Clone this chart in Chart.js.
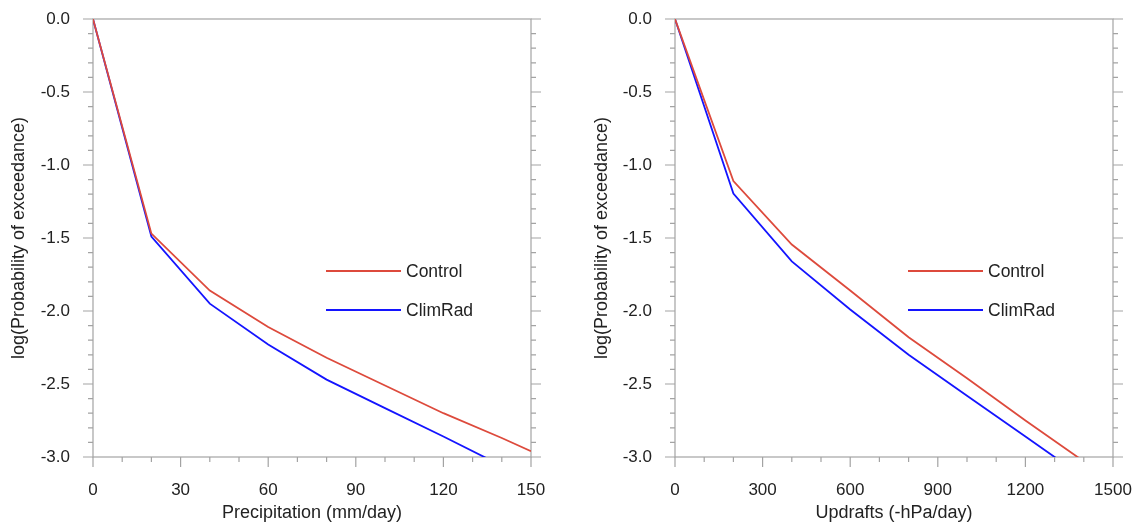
<!DOCTYPE html>
<html>
<head>
<meta charset="utf-8">
<script src="https://cdn.jsdelivr.net/npm/chart.js@4.4.1/dist/chart.umd.min.js"></script>
<style>
    html, body { margin: 0; padding: 0; background: #fff; }
    .panel { position: absolute; top: 0; width: 568px; height: 524px; }
    #left { left: 0; }
    #right { left: 568px; }
</style>
</head>
<body>
<div class="panel" id="left"><canvas id="precipChart" width="568" height="524"></canvas></div>
<div class="panel" id="right"><canvas id="updraftChart" width="568" height="524"></canvas></div>
<script>
/* ===== DATA ===== */
const seriesNames = ['Control', 'ClimRad'];

const precipX = [0, 20, 40, 60, 80, 100, 120, 140, 150];
const precipControl = [0, -1.47, -1.86, -2.11, -2.32, -2.51, -2.70, -2.87, -2.96];
const precipClimRad = [0, -1.49, -1.95, -2.23, -2.47, -2.665, -2.86, -3.06, null];

const updraftX = [0, 200, 400, 600, 800, 1000, 1200, 1400];
const updraftControl = [0, -1.11, -1.545, -1.86, -2.18, -2.46, -2.75, -3.03];
const updraftClimRad = [0, -1.195, -1.66, -1.99, -2.30, -2.58, -2.86, -3.14];

const precipTicks = [0, 30, 60, 90, 120, 150];
const updraftTicks = [0, 300, 600, 900, 1200, 1500];
const probTicks = [-3.0, -2.5, -2.0, -1.5, -1.0, -0.5, 0.0];

/* ===== PLUGINS ===== */
const FONT = '"Liberation Sans", Arial, Helvetica, sans-serif';

// frame + major/minor tick marks (left, bottom, right)
const framePlugin = {
    id: 'frame',
    beforeDatasetsDraw(chart, args, opts) {
        const ctx = chart.ctx;
        const a = chart.chartArea;
        const xs = chart.scales.x;
        const ys = chart.scales.y;
        const xMajor = xs.ticks.map(t => t.value);
        const yMajor = ys.ticks.map(t => t.value);
        const isMajor = (v, list) => list.some(m => Math.abs(m - v) < 1e-6);

        ctx.save();
        ctx.strokeStyle = '#a3a3a3';
        ctx.lineWidth = 1.2;
        ctx.strokeRect(a.left, a.top, a.right - a.left, a.bottom - a.top);

        ctx.beginPath();
        const nx = Math.round((xs.max - xs.min) / opts.xMinor);
        for (let i = 0; i <= nx; i++) {
            const v = xs.min + i * opts.xMinor;
            const px = xs.getPixelForValue(v);
            const len = isMajor(v, xMajor) ? 10 : 5;
            ctx.moveTo(px, a.bottom);
            ctx.lineTo(px, a.bottom + len);
        }
        const ny = Math.round((ys.max - ys.min) / opts.yMinor);
        for (let i = 0; i <= ny; i++) {
            const v = ys.min + i * opts.yMinor;
            const py = ys.getPixelForValue(v);
            const len = isMajor(v, yMajor) ? 10 : 5;
            ctx.moveTo(a.left, py);
            ctx.lineTo(a.left - len, py);
            ctx.moveTo(a.right, py);
            ctx.lineTo(a.right + len, py);
        }
        ctx.stroke();
        ctx.restore();
    }
};

// legend drawn inside the plot
const lineLegend = {
    id: 'lineLegend',
    afterDatasetsDraw(chart, args, opts) {
        const ctx = chart.ctx;
        ctx.save();
        ctx.font = '17.5px ' + FONT;
        ctx.textBaseline = 'middle';
        chart.data.datasets.forEach((ds, i) => {
            const y = opts.y + i * opts.gap;
            ctx.strokeStyle = ds.borderColor;
            ctx.lineWidth = ds.borderWidth;
            ctx.beginPath();
            ctx.moveTo(opts.x, y);
            ctx.lineTo(opts.x + 75, y);
            ctx.stroke();
            ctx.fillStyle = '#222';
            ctx.fillText(ds.label, opts.x + 80, y + 1);
        });
        ctx.restore();
    }
};

/* ===== CHARTS ===== */
function points(xs, ys) {
    return xs.map((x, i) => ({ x: x, y: ys[i] }));
}

function makeChart(id, opt) {
    return new Chart(document.getElementById(id).getContext('2d'), {
        type: 'line',
        data: {
            datasets: [{
                label: seriesNames[0],
                data: points(opt.x, opt.control),
                borderColor: '#dd4a3c',
                borderWidth: 1.8,
                pointRadius: 0,
                clip: 0,
            }, {
                label: seriesNames[1],
                data: points(opt.x, opt.climRad),
                borderColor: '#1414ff',
                borderWidth: 1.8,
                pointRadius: 0,
                clip: 0,
            }],
        },
        options: {
            responsive: false,
            animation: false,
            layout: { padding: { left: 0, right: opt.padRight, top: 19, bottom: 0 } },
            scales: {
                x: {
                    type: 'linear',
                    min: opt.xTicks[0],
                    max: opt.xTicks[opt.xTicks.length - 1],
                    afterBuildTicks: s => { s.ticks = opt.xTicks.map(v => ({ value: v })); },
                    afterFit: s => { s.height = 67; },
                    // ticks themselves are drawn by the frame plugin; tickLength only offsets labels
                    grid: { display: false, drawTicks: true, tickLength: 23 },
                    border: { display: false },
                    ticks: {
                        autoSkip: false, maxRotation: 0, padding: 0,
                        color: '#222', font: { family: FONT, size: 17 },
                        callback: v => String(v),
                    },
                    title: {
                        display: true, text: opt.xTitle, color: '#222',
                        font: { family: FONT, size: 18 }, padding: { top: 0, bottom: 0 },
                    },
                },
                y: {
                    type: 'linear',
                    min: -3,
                    max: 0,
                    afterBuildTicks: s => { s.ticks = probTicks.map(v => ({ value: v })); },
                    afterFit: s => { s.width = opt.yWidth; },
                    grid: { display: false, drawTicks: true, tickLength: 23 },
                    border: { display: false },
                    ticks: {
                        autoSkip: false, padding: 0,
                        color: '#222', font: { family: FONT, size: 17 },
                        callback: v => Number(v).toFixed(1),
                    },
                    title: {
                        display: true, text: 'log(Probability of exceedance)', color: '#222',
                        font: { family: FONT, size: 18 }, padding: { top: opt.yTitlePad, bottom: 0 },
                    },
                },
            },
            plugins: {
                legend: { display: false },
                tooltip: { enabled: false },
                frame: { xMinor: opt.xMinor, yMinor: 0.1 },
                lineLegend: { x: opt.legendX, y: 271, gap: 39 },
            },
        },
        plugins: [framePlugin, lineLegend],
    });
}

var precipChart = makeChart('precipChart', {
    x: precipX, control: precipControl, climRad: precipClimRad,
    xTicks: precipTicks, xMinor: 10, xTitle: 'Precipitation (mm/day)',
    padRight: 37, yWidth: 93, yTitlePad: 8, legendX: 326,
});

var updraftChart = makeChart('updraftChart', {
    x: updraftX, control: updraftControl, climRad: updraftClimRad,
    xTicks: updraftTicks, xMinor: 100, xTitle: 'Updrafts (-hPa/day)',
    padRight: 23, yWidth: 107, yTitlePad: 23, legendX: 340,
});
</script>
</body>
</html>
